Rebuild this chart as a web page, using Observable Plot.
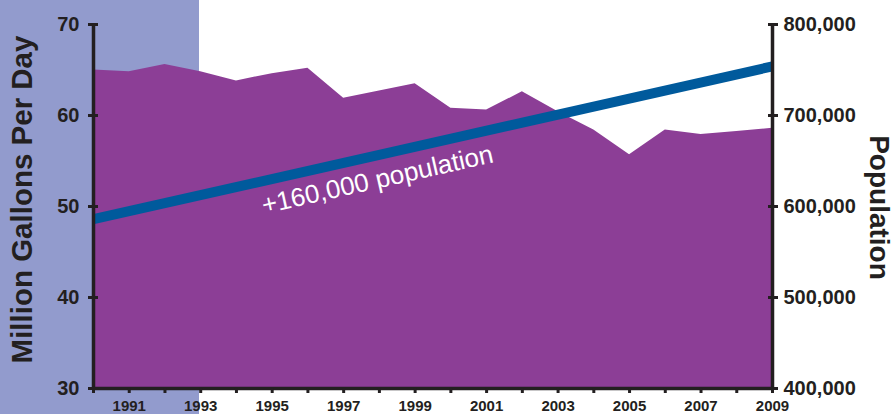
<!DOCTYPE html>
<html>
<head>
<meta charset="utf-8">
<script src="https://cdn.jsdelivr.net/npm/d3@7"></script>
<script src="https://cdn.jsdelivr.net/npm/@observablehq/plot@0.6"></script>
<style>
  html, body { margin: 0; padding: 0; background: #fff; }
  #chart svg { display: block; }
</style>
</head>
<body>
<div id="chart"></div>
<script>
// ---- data ----
const years = [1990,1991,1992,1993,1994,1995,1996,1997,1998,1999,2000,2001,2002,2003,2004,2005,2006,2007,2008,2009];
const gallons = [65.0,64.8,65.6,64.8,63.8,64.6,65.2,61.9,62.7,63.5,60.8,60.6,62.6,60.4,58.4,55.7,58.4,57.9,58.25,58.6];
const popYears = [1990, 2009];
const population = [586000, 754000];
const gallonTicks = [30, 40, 50, 60, 70];
const popTicks = [400000, 500000, 600000, 700000, 800000];
const annotationYear = 1998;
const annotationText = "+160,000 population";
const leftTitle = "Million Gallons Per Day";
const rightTitle = "Population";

// ---- helpers ----
const g0 = gallonTicks[0], g1 = gallonTicks[gallonTicks.length - 1];
const p0 = popTicks[0], p1 = popTicks[popTicks.length - 1];
const toG = p => g0 + (p - p0) / (p1 - p0) * (g1 - g0);
const toP = g => p0 + (g - g0) / (g1 - g0) * (p1 - p0);
const popAt = yr => population[0] + (yr - popYears[0]) / (popYears[1] - popYears[0]) * (population[1] - population[0]);

const usage = years.map((y, i) => ({year: y, gallons: gallons[i]}));
const pop = popYears.map((y, i) => ({year: y, pop: population[i]}));
const note = [{year: annotationYear, label: annotationText}];

const dark = "#231f20";
const purple = "#8c3e96";
const blue = "#005a9c";
const font = "'Liberation Sans', Arial, Helvetica, sans-serif";

const chart = Plot.plot({
  width: 894,
  height: 414,
  marginLeft: 93,
  marginRight: 122,
  marginTop: 24,
  marginBottom: 26,
  style: {fontFamily: font, background: "linear-gradient(to right, #929bcd 0px, #929bcd 199px, transparent 199px)", overflow: "visible"},
  x: {domain: [years[0], years[years.length - 1]]},
  y: {domain: [g0, g1]},
  marks: [
    Plot.areaY(usage, {x: "year", y1: g0, y2: "gallons", fill: purple}),
    Plot.line(pop, {x: "year", y: d => toG(d.pop), stroke: blue, strokeWidth: 10, strokeLinecap: "butt"}),
    Plot.text(note, {x: "year", y: d => toG(popAt(d.year)), text: "label", dx: -2, dy: 25, rotate: -12.7,
      fill: "white", fontSize: 26, textAnchor: "middle", lineAnchor: "middle"}),
    Plot.ruleX([years[0], years[years.length - 1]], {stroke: dark, strokeWidth: 3.5}),
    Plot.ruleY([g0], {stroke: dark, strokeWidth: 3.5}),
    Plot.axisX({ticks: years, tickSize: 5, tickPadding: 7, strokeWidth: 3,
      tickFormat: d => d % 2 ? String(d) : "", fontSize: 15, fontWeight: "bold", color: dark, label: null}),
    Plot.axisY({anchor: "left", ticks: gallonTicks, tickSize: 10, dx: 5, tickPadding: 9, strokeWidth: 3,
      fontSize: 20, fontWeight: "bold", color: dark, label: null}),
    Plot.axisY({anchor: "right", ticks: popTicks.map(toG), tickSize: 10, dx: -5, tickPadding: 6, strokeWidth: 3,
      tickFormat: g => d3.format(",")(Math.round(toP(g))), fontSize: 20, fontWeight: "bold", color: dark, label: null}),
    Plot.text([leftTitle], {text: d => d, frameAnchor: "left", rotate: -90, dx: -71, dy: -7,
      fontSize: 29.5, fontWeight: "bold", fill: dark, textAnchor: "middle", lineAnchor: "middle"}),
    Plot.text([rightTitle], {text: d => d, frameAnchor: "right", rotate: 90, dx: 106, dy: 1,
      fontSize: 28, fontWeight: "bold", fill: dark, textAnchor: "middle", lineAnchor: "middle"})
  ]
});
document.getElementById("chart").append(chart);
</script>
</body>
</html>
